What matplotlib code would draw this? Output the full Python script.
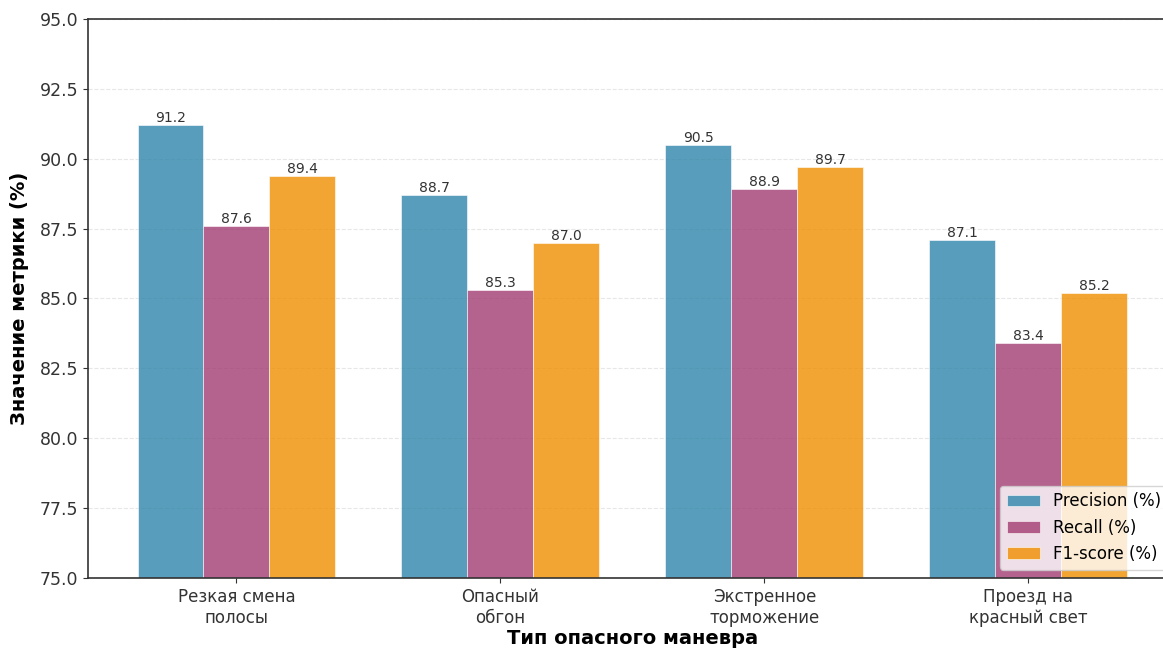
import numpy as np
import matplotlib.pyplot as plt

# maneuver types and detection metrics
maneuvers = ['Резкая смена\nполосы', 'Опасный\nобгон', 'Экстренное\nторможение', 'Проезд на\nкрасный свет']
precision = [91.2, 88.7, 90.5, 87.1]
recall = [87.6, 85.3, 88.9, 83.4]
f1 = [89.4, 87.0, 89.7, 85.2]

series = [('Precision (%)', precision, '#2E86AB'),
          ('Recall (%)', recall, '#A23B72'),
          ('F1-score (%)', f1, '#F18F01')]

fig = plt.figure(figsize=(11.63, 6.52), dpi=100)
ax = fig.add_axes([0.0757, 0.1135, 0.936, 0.8574])

x = np.arange(len(maneuvers))
width = 0.25
for i, (name, vals, color) in enumerate(series):
    bars = ax.bar(x + (i - 1) * width, vals, width, label=name, color=color,
                  alpha=0.8, edgecolor='white', linewidth=0.5)
    for b, v in zip(bars, vals):
        ax.text(b.get_x() + b.get_width() / 2, v, f'{v:.1f}',
                ha='center', va='bottom', fontsize=10, color='#333333')

ax.set_ylim(75, 95)
ax.set_yticks(np.arange(75, 95.1, 2.5))
ax.set_xticks(x)
ax.set_xticklabels(maneuvers, fontsize=12)
ax.tick_params(axis='y', labelsize=12.5, colors='#333333')
ax.tick_params(axis='x', colors='#333333')
ax.set_xlabel('Тип опасного маневра', fontsize=14, fontweight='bold', labelpad=2)
ax.set_ylabel('Значение метрики (%)', fontsize=14, fontweight='bold', labelpad=8)
ax.grid(axis='y', linestyle='--', alpha=0.3)
ax.set_axisbelow(True)
ax.legend(loc='lower right', fontsize=12)

for s in ax.spines.values():
    s.set_linewidth(1.2)
    s.set_color('#333333')

fig.savefig('out.png', dpi=100)
